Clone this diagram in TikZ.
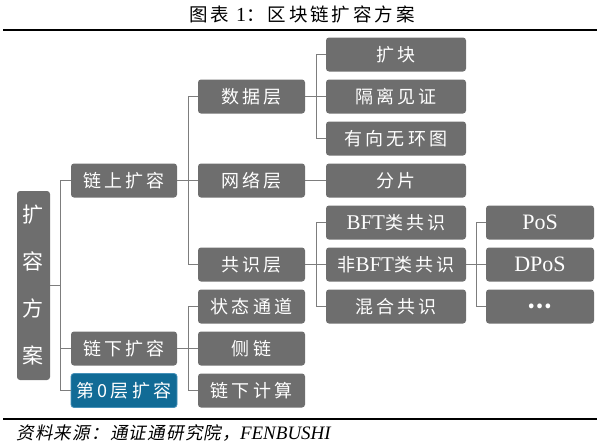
\documentclass[tikz,border=0pt]{standalone}
\usepackage{fontspec}
\setmainfont{Liberation Serif}
\newfontfamily\cjk[LetterSpace=18]{Noto Sans CJK SC}
\newfontfamily\cjkeng{Noto Sans CJK SC}
\newfontfamily\cjktitel[LetterSpace=16]{Noto Sans CJK SC}
\newfontfamily\cjkkursiv[FakeSlant=0.2,LetterSpace=7]{Noto Sans CJK SC}
\definecolor{kastengrau}{RGB}{110,110,110}
\definecolor{liniengrau}{RGB}{125,125,125}
\definecolor{kastenblau}{RGB}{17,107,150}
\definecolor{randblau}{RGB}{70,145,185}

\begin{document}
\begin{tikzpicture}[x=1pt,y=-1pt,
		kasten/.style={rectangle,rounded corners=3pt,fill=kastengrau,text=white,minimum height=34pt,inner sep=0pt,font=\cjk\fontsize{18}{18}\selectfont},
		spalteA/.style={kasten,minimum width=106pt},
		spalteB/.style={kasten,minimum width=107pt},
		spalteC/.style={kasten,minimum width=140pt},
		spalteD/.style={kasten,minimum width=108pt},
		verb/.style={draw=liniengrau,line width=1.3pt}]
			\useasboundingbox (0,0) rectangle (600,447);
			
			%%Titel
			\node[font=\cjktitel\fontsize{18.5}{18.5}\selectfont] (titel) at (302,14) {图表 {\rmfamily\fontsize{20}{20}\selectfont 1}：区块链扩容方案};
			\draw[line width=2.2pt] (3,30) -- (597,30);
			\draw[line width=2.2pt] (3,419) -- (597,419);
			\node[anchor=west,font=\cjkkursiv\fontsize{17.5}{17.5}\selectfont] (quelle) at (13,433) {资料来源：通证通研究院，{\rmfamily\itshape\fontsize{19}{19}\selectfont FENBUSHI}};
		
			%%Wurzel
			\node[kasten,minimum width=33pt,minimum height=189pt,align=center,font=\cjkeng\fontsize{21}{47}\selectfont] (fang) at (33.5,285.5) {扩\\容\\方\\案};
			
			%%Ebene 1
			\node[spalteA] (lianshang) at (124,180.5) {链上扩容};
			\node[spalteA] (lianxia) at (124,348.5) {链下扩容};
			\node[spalteA,fill=kastenblau,draw=randblau,line width=0.8pt] (ceng) at (124,390.5) {第0层扩容};
			
			%%Ebene 2
			\node[spalteB] (shuju) at (251.5,96.5) {数据层};
			\node[spalteB] (wangluo) at (251.5,180.5) {网络层};
			\node[spalteB] (gongshi) at (251.5,264.5) {共识层};
			\node[spalteB] (zhuangtai) at (251.5,306.5) {状态通道};
			\node[spalteB] (celian) at (251.5,348.5) {侧链};
			\node[spalteB] (jisuan) at (251.5,390.5) {链下计算};
			
			%%Ebene 3
			\node[spalteC] (kuokuai) at (396,54.5) {扩块};
			\node[spalteC] (geli) at (396,96.5) {隔离见证};
			\node[spalteC] (dag) at (396,138.5) {有向无环图};
			\node[spalteC] (fenpian) at (396,180.5) {分片};
			\node[spalteC] (bft) at (396,222.5) {{\rmfamily\fontsize{21}{21}\selectfont BFT}类共识};
			\node[spalteC] (feibft) at (396,264.5) {非{\rmfamily\fontsize{21}{21}\selectfont BFT}类共识};
			\node[spalteC] (hunhe) at (396,306.5) {混合共识};
			
			%%Ebene 4
			\node[spalteD,font=\rmfamily\fontsize{22}{22}\selectfont] (pos) at (540,222.5) {PoS};
			\node[spalteD,font=\rmfamily\fontsize{22}{22}\selectfont] (dpos) at (540,264.5) {DPoS};
			\node[spalteD,font=\cjkeng\bfseries\fontsize{22}{22}\selectfont] (weiter) at (540,306.5) {⋯};
			
			%%Verbindungen
			\foreach \k in {lianshang,lianxia,ceng}
				\draw[verb] (fang.east) -- ++(10,0) |- (\k.west);
			\foreach \k in {shuju,wangluo,gongshi}
				\draw[verb] (lianshang.east) -- ++(11,0) |- (\k.west);
			\foreach \k in {zhuangtai,celian,jisuan}
				\draw[verb] (lianxia.east) -- ++(11,0) |- (\k.west);
			\foreach \k in {kuokuai,geli,dag}
				\draw[verb] (shuju.east) -- ++(11,0) |- (\k.west);
			\draw[verb] (wangluo.east) -- (fenpian.west);
			\foreach \k in {bft,feibft,hunhe}
				\draw[verb] (gongshi.east) -- ++(11,0) |- (\k.west);
			\foreach \k in {pos,dpos,weiter}
				\draw[verb] (feibft.east) -- ++(10,0) |- (\k.west);
		\end{tikzpicture}
\end{document}
